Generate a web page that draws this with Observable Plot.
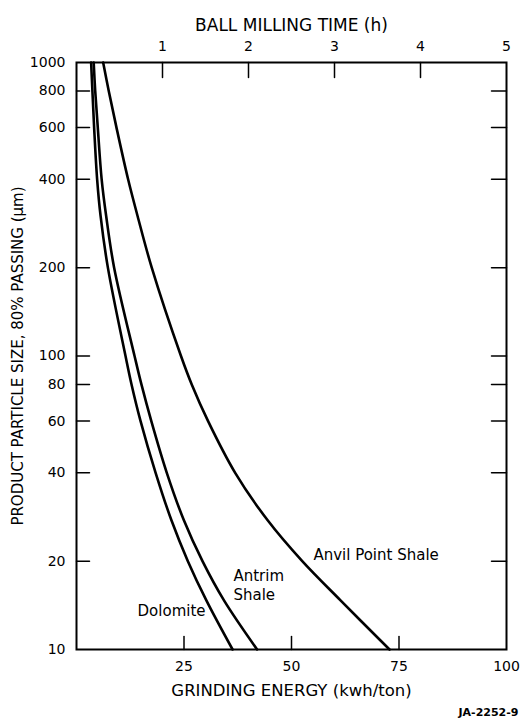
<!DOCTYPE html>
<html><head><meta charset="utf-8">
<script src="https://cdn.jsdelivr.net/npm/d3@7"></script>
<script src="https://cdn.jsdelivr.net/npm/@observablehq/plot@0.6"></script>
<style>
body{margin:0;background:#fff}
svg{font-family:"DejaVu Sans",Verdana,sans-serif}
</style>
</head><body><div id="chart"></div>
<script>
// Product particle size (µm, 80% passing) at which energies were read
const sizes = [1000, 800, 600, 400, 300, 200, 100, 80, 60, 40, 27.5, 20, 14.7, 10];
// Grinding energy (kwh/ton) for each material
const dolomite = [3.4, 3.7, 4.1, 4.8, 5.6, 7.3, 11.4, 12.8, 14.9, 18.4, 22.1, 25.9, 30.2, 36.3];
const antrim   = [4.0, 4.35, 4.95, 5.85, 6.9, 8.75, 13.5, 15.1, 17.4, 21.0, 25.0, 29.3, 34.3, 42.0];
const anvil    = [6.2, 7.5, 9.3, 12.0, 14.2, 17.5, 24.3, 26.8, 30.6, 36.9, 44.5, 52.5, 61.4, 72.8];

const yTicks = [10, 20, 40, 60, 80, 100, 200, 400, 600, 800, 1000];
const energyTicks = [25, 50, 75, 100];
const hourTicks = [1, 2, 3, 4, 5];
const kwhPerHour = 20; // 5 h spans the same width as 100 kwh/ton

const labels = [
  {text: "Dolomite", e: 14.2, s: 13.5},
  {text: "Antrim", e: 36.5, s: 17.8},
  {text: "Shale", e: 36.5, s: 15.3},
  {text: "Anvil Point Shale", e: 55.1, s: 20.9}
];

const series = [
  {name: "Dolomite", v: dolomite},
  {name: "Antrim Shale", v: antrim},
  {name: "Anvil Point Shale", v: anvil}
];
const rows = series.flatMap(s => s.v.map((e, i) => ({series: s.name, energy: e, size: sizes[i]})));

const tickShape = {draw(ctx, l) { ctx.moveTo(0, 0); ctx.lineTo(0, -l); }};
const tickStyle = {shape: tickShape, anchor: "start", stroke: "black", strokeWidth: 1.5};
const fs = 14;

const chart = Plot.plot({
  width: 532,
  height: 726,
  marginLeft: 76,
  marginRight: 26,
  marginTop: 62,
  marginBottom: 77,
  style: {fontSize: fs + "px", color: "black", background: "white"},
  x: {domain: [0, 100]},
  y: {type: "log", domain: [10, 1000]},
  marks: [
    Plot.axisX(energyTicks, {anchor: "bottom", tickSize: 0, tickPadding: 12, fontSize: fs, label: null}),
    Plot.axisX(hourTicks.map(h => h * kwhPerHour), {anchor: "top", tickFormat: d => d / kwhPerHour, tickSize: 0, tickPadding: 12, fontSize: fs, label: null}),
    Plot.axisY(yTicks, {anchor: "left", tickSize: 0, tickPadding: 11, fontSize: fs, label: null, tickFormat: d => String(d)}),
    Plot.vector(energyTicks.slice(0, 3), {x: d => d, y: () => 10, length: 13, rotate: 0, ...tickStyle}),
    Plot.vector(hourTicks.slice(0, 4), {x: d => d * kwhPerHour, y: () => 1000, length: 15, rotate: 180, ...tickStyle}),
    Plot.vector(yTicks.slice(1, -1), {x: () => 0, y: d => d, length: 13, rotate: 90, ...tickStyle}),
    Plot.vector(yTicks.slice(1, -1), {x: () => 100, y: d => d, length: 15, rotate: -90, ...tickStyle}),
    Plot.line(rows, {x: "energy", y: "size", z: "series", curve: "catmull-rom", stroke: "black", strokeWidth: 2.6}),
    Plot.frame({stroke: "black", strokeWidth: 2}),
    Plot.text(labels, {x: "e", y: "s", text: "text", textAnchor: "start", fontSize: 15}),
    Plot.text(["BALL MILLING TIME (h)"], {frameAnchor: "top", textAnchor: "middle", dy: -44, fontSize: 17}),
    Plot.text(["GRINDING ENERGY (kwh/ton)"], {frameAnchor: "bottom", textAnchor: "middle", dy: 46, fontSize: 16.5}),
    Plot.text(["PRODUCT PARTICLE SIZE, 80% PASSING (\u03bcm)"], {frameAnchor: "left", textAnchor: "middle", dx: -58, rotate: -90, fontSize: 15}),
    Plot.text(["JA-2252-9"], {frameAnchor: "bottom-right", dx: 12, dy: 66, textAnchor: "end", fontSize: 11, fontWeight: "bold"})
  ]
});
document.getElementById("chart").appendChild(chart);
</script>
</body></html>
